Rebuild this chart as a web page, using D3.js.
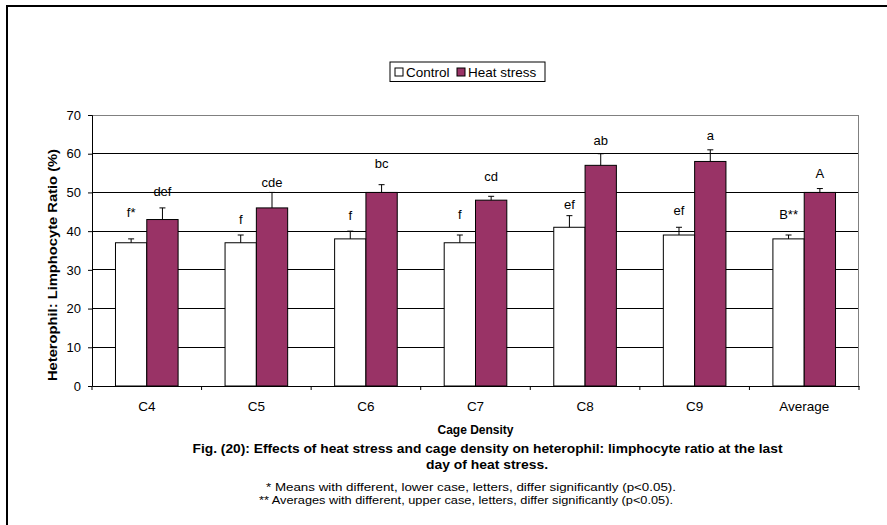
<!DOCTYPE html>
<html>
<head>
<meta charset="utf-8">
<script src="https://cdn.jsdelivr.net/npm/d3@7"></script>
<style>
  body { margin: 0; background: #fff; }
  text { font-family: "Liberation Sans", Arial, sans-serif; fill: #000; }
</style>
</head>
<body>
<div id="chart"></div>
<script>
// data
const categories = ['C4', 'C5', 'C6', 'C7', 'C8', 'C9', 'Average']
const series = ['Control', 'Heat stress']
const controlValues = [37, 37, 38, 37, 41, 39, 38]
const heatValues = [43, 46, 50, 48, 57, 58, 50]
const controlErr = [1, 2, 2, 2, 3, 2, 1]
const heatErr = [3, 4, 2, 1, 3, 3, 1]
const controlLetters = ['f*', 'f', 'f', 'f', 'ef', 'ef', 'B**']
const heatLetters = ['def', 'cde', 'bc', 'cd', 'ab', 'a', 'A']
// height (in axis units) where each letter sits
const controlLetterAt = [44.8, 43, 44.1, 44.3, 46.9, 45.3, 44.3]
const heatLetterAt = [50.3, 52.6, 57.4, 54.2, 63.5, 64.7, 54.9]
const yTicks = [0, 10, 20, 30, 40, 50, 60, 70]
const colors = ['#ffffff', '#993366']

const width = 887
const height = 525
const margin = { top: 115, right: 28, bottom: 139, left: 92 }
const innerW = width - margin.left - margin.right
const innerH = height - margin.top - margin.bottom

const svg = d3.select('#chart').append('svg')
  .attr('width', width)
  .attr('height', height)

// outer frame: only top and left edges show
svg.append('path')
  .attr('d', `M7,${height} V6 H${width}`)
  .attr('fill', 'none')
  .attr('stroke', '#000')
  .attr('stroke-width', 2)

const g = svg.append('g').attr('transform', `translate(${margin.left},${margin.top})`)

const x = d3.scaleBand().domain(categories).range([0, innerW])
const bw = x.bandwidth() / 3.5
const x1 = d3.scaleBand().domain(series).range([x.bandwidth() / 2 - bw, x.bandwidth() / 2 + bw])
const y = d3.scaleLinear().domain([0, 70]).range([innerH, 0])

// gridlines
g.append('g')
  .selectAll('line')
  .data(yTicks.filter(t => t > 0 && t < 70))
  .join('line')
  .attr('x1', 0).attr('x2', innerW)
  .attr('y1', d => y(d)).attr('y2', d => y(d))
  .attr('stroke', '#000')
  .attr('shape-rendering', 'crispEdges')

// plot area border (top and right)
g.append('path')
  .attr('d', `M0,0.5 H${innerW - 0.5} V${innerH}`)
  .attr('fill', 'none')
  .attr('stroke', '#808080')
  .attr('shape-rendering', 'crispEdges')

const rows = categories.map((c, i) => ({
  cat: c,
  bars: [
    { s: series[0], v: controlValues[i], e: controlErr[i], lab: controlLetters[i], at: controlLetterAt[i] },
    { s: series[1], v: heatValues[i], e: heatErr[i], lab: heatLetters[i], at: heatLetterAt[i] }
  ]
}))

const groups = g.append('g')
  .selectAll('g')
  .data(rows)
  .join('g')
  .attr('transform', d => `translate(${x(d.cat)},0)`)

const bar = groups.selectAll('g')
  .data(d => d.bars)
  .join('g')

bar.append('rect')
  .attr('x', d => x1(d.s))
  .attr('width', x1.bandwidth())
  .attr('y', d => y(d.v))
  .attr('height', d => innerH - y(d.v))
  .attr('fill', (d, i) => colors[i])
  .attr('stroke', '#000')
  .attr('stroke-width', 1)

// upper error bars
bar.append('path')
  .attr('d', d => {
    const cx = x1(d.s) + x1.bandwidth() / 2
    return `M${cx},${y(d.v)} V${y(d.v + d.e)} M${cx - 3},${y(d.v + d.e)} H${cx + 3}`
  })
  .attr('stroke', '#000')
  .attr('fill', 'none')

bar.append('text')
  .attr('x', d => x1(d.s) + x1.bandwidth() / 2)
  .attr('y', d => y(d.at))
  .attr('dy', '0.35em')
  .attr('text-anchor', 'middle')
  .attr('font-size', 13)
  .text(d => d.lab)

// axes
const xAxis = g.append('g')
  .attr('transform', `translate(0,${innerH})`)
  .call(d3.axisBottom(x).tickSize(0).tickPadding(15))
xAxis.select('.domain').attr('stroke', '#000')
xAxis.selectAll('text').attr('font-size', 13.5)
xAxis.selectAll('.sep')
  .data(d3.range(categories.length + 1))
  .join('line')
  .attr('class', 'sep')
  .attr('x1', i => i * x.step()).attr('x2', i => i * x.step())
  .attr('y1', 0).attr('y2', 4)
  .attr('stroke', '#000')

const yAxis = g.append('g')
  .call(d3.axisLeft(y).tickValues(yTicks).tickSize(4).tickPadding(7))
yAxis.select('.domain').attr('stroke', '#000')
yAxis.selectAll('.tick line').attr('stroke', '#000')
yAxis.selectAll('text').attr('font-size', 13)

// axis titles
g.append('text')
  .attr('x', innerW / 2)
  .attr('y', innerH + 48)
  .attr('text-anchor', 'middle')
  .attr('font-size', 12)
  .attr('font-weight', 'bold')
  .text('Cage Density')

svg.append('text')
  .attr('transform', 'translate(57,265) rotate(-90)')
  .attr('text-anchor', 'middle')
  .attr('font-size', 12.5)
  .attr('font-weight', 'bold')
  .attr('textLength', 232)
  .attr('lengthAdjust', 'spacingAndGlyphs')
  .text('Heterophil: Limphocyte Ratio (%)')

// legend
const legend = svg.append('g').attr('transform', 'translate(390,62)')
legend.append('rect')
  .attr('width', 155).attr('height', 19.5)
  .attr('fill', '#fff').attr('stroke', '#000')
const legendItems = [{ s: series[0], dx: 5, tx: 16 }, { s: series[1], dx: 67, tx: 78 }]
legendItems.forEach((it, i) => {
  legend.append('rect')
    .attr('x', it.dx).attr('y', 6)
    .attr('width', 8).attr('height', 8)
    .attr('fill', colors[i]).attr('stroke', '#000')
  legend.append('text')
    .attr('x', it.tx).attr('y', 10)
    .attr('dy', '0.35em')
    .attr('font-size', 13.5)
    .text(it.s)
})

// caption
const caption = svg.append('text')
  .attr('text-anchor', 'middle')
  .attr('font-size', 13)
  .attr('font-weight', 'bold')
caption.append('tspan').attr('x', 487.5).attr('y', 452.5)
  .attr('textLength', 590).attr('lengthAdjust', 'spacingAndGlyphs')
  .text('Fig. (20): Effects of heat stress and cage density on heterophil: limphocyte ratio at the last')
caption.append('tspan').attr('x', 487).attr('y', 468.5)
  .attr('textLength', 122).attr('lengthAdjust', 'spacingAndGlyphs')
  .text('day of heat stress.')

const notes = svg.append('text')
  .attr('text-anchor', 'middle')
  .attr('font-size', 11)
notes.append('tspan').attr('x', 471).attr('y', 491)
  .attr('textLength', 410).attr('lengthAdjust', 'spacingAndGlyphs')
  .text('* Means with different, lower case, letters, differ significantly (p<0.05).')
notes.append('tspan').attr('x', 466).attr('y', 503.5)
  .attr('textLength', 414).attr('lengthAdjust', 'spacingAndGlyphs')
  .text('** Averages with different, upper case, letters, differ significantly (p<0.05).')
</script>
</body>
</html>
